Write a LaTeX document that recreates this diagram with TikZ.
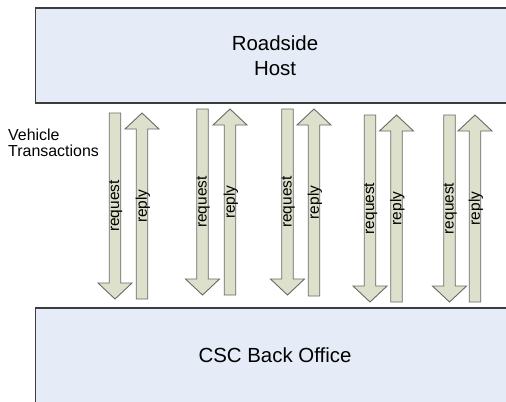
\documentclass[tikz,border=0pt]{standalone}
\usepackage{fontspec}
\setmainfont{Liberation Sans}
\definecolor{boxfill}{RGB}{229,236,247}
\definecolor{boxline}{RGB}{60,60,60}
\definecolor{arrfill}{RGB}{221,224,203}
\definecolor{arrline}{RGB}{105,105,105}
\newcommand{\ReqArrow}[4]{% name, cx, top y, tip y
  \draw[blockarrow] (#2-5.75,#3) -- (#2+5.75,#3) -- (#2+5.75,#4-16) -- (#2+17,#4-16)
    -- (#2,#4) -- (#2-17,#4-16) -- (#2-5.75,#4-16) -- cycle;
  \node[arrlabel] (#1) at (#2+0.8,{(#3+#4)/2}) {request};}
\newcommand{\RepArrow}[4]{% name, cx, tip y, bottom y
  \draw[blockarrow] (#2-5.75,#4) -- (#2+5.75,#4) -- (#2+5.75,#3+16) -- (#2+17,#3+16)
    -- (#2,#3) -- (#2-17,#3+16) -- (#2-5.75,#3+16) -- cycle;
  \node[arrlabel] (#1) at (#2+0.8,{(#3+#4)/2}) {reply};}
\begin{document}
\begin{tikzpicture}[x=1bp,y=-1bp,
  boxshape/.style={fill=boxfill,draw=boxline,line width=1.3bp},
  blockarrow/.style={fill=arrfill,draw=arrline,line width=0.9bp,line join=miter},
  biglabel/.style={font=\fontsize{20.5}{24.5}\selectfont,align=center,inner sep=0},
  arrlabel/.style={font=\fontsize{15.5}{18}\selectfont,rotate=90,inner sep=0},
  sidelabel/.style={font=\fontsize{16}{16.5}\selectfont,align=left,inner sep=0,anchor=north west}]
\clip (0,0) rectangle (506,401);
\fill[white] (0,0) rectangle (506,401);
\draw[boxshape] (35.5,8) rectangle (520,103);
\draw[boxshape] (35.5,308) rectangle (520,420);
\node[biglabel] (host) at (275,55.5) {Roadside\\Host};
\node[biglabel,anchor=base] (office) at (275,362) {CSC Back Office};
\node[sidelabel] (vt) at (8,128.5) {Vehicle\\Transactions};
\ReqArrow{req1}{115}{113}{299}
\RepArrow{rep1}{142}{113}{299}
\ReqArrow{req2}{202.5}{109}{295}
\RepArrow{rep2}{230}{109}{295}
\ReqArrow{req3}{287.5}{109}{295}
\RepArrow{rep3}{314}{109}{296}
\ReqArrow{req4}{370}{115}{302}
\RepArrow{rep4}{396.5}{115}{302}
\ReqArrow{req5}{449.5}{115}{302}
\RepArrow{rep5}{475}{115}{302}
\end{tikzpicture}
\end{document}
